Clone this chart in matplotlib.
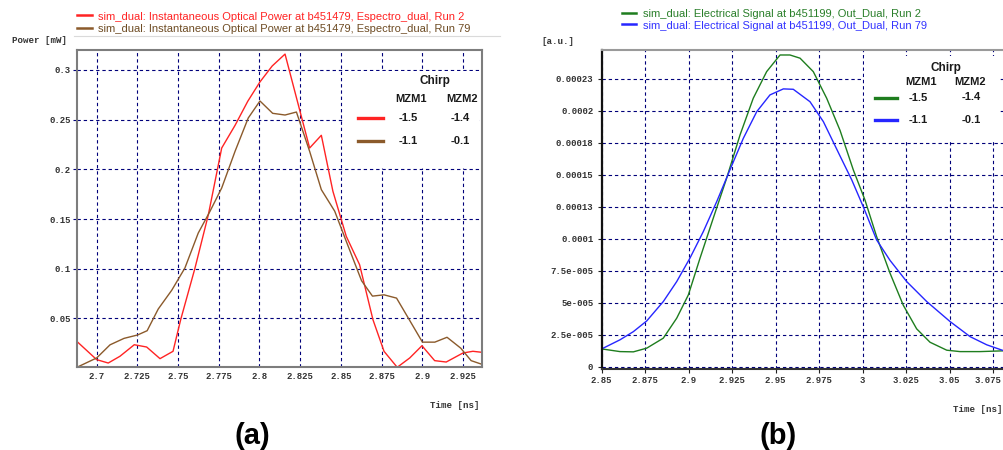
import matplotlib
matplotlib.use("Agg")
import matplotlib.pyplot as plt
import matplotlib.transforms as mtransforms
from matplotlib.lines import Line2D
from matplotlib.patches import Rectangle

# ---------------- data ----------------
# (a) instantaneous optical power [mW] vs time [ns]
t_run2 = [2.6882, 2.7000, 2.7071, 2.7143, 2.7231, 2.7307, 2.7389, 2.7469, 2.7516,
          2.7604, 2.7686, 2.7768, 2.7850, 2.7928, 2.8003, 2.8078, 2.8157, 2.8308,
          2.8380, 2.8451, 2.8533, 2.8615, 2.8697, 2.8765, 2.8846, 2.8923, 2.8998,
          2.9076, 2.9147, 2.9250, 2.9311, 2.9365]
p_run2 = [0.0264, 0.0086, 0.0052, 0.0120, 0.0236, 0.0213, 0.0096, 0.0170, 0.0488,
          0.1008, 0.1544, 0.2215, 0.2443, 0.2685, 0.2880, 0.3040, 0.3160, 0.2215,
          0.2343, 0.1780, 0.1327, 0.1041, 0.0488, 0.0170, 0.0009, 0.0103, 0.0226,
          0.0076, 0.0062, 0.0153, 0.0170, 0.0160]

t_run79 = [2.6880, 2.7000, 2.7082, 2.7168, 2.7251, 2.7310, 2.7378, 2.7461, 2.7542,
           2.7624, 2.7696, 2.7768, 2.7850, 2.7931, 2.8003, 2.8081, 2.8157, 2.8227,
           2.8308, 2.8380, 2.8462, 2.8533, 2.8627, 2.8694, 2.8765, 2.8842, 2.8920,
           2.9001, 2.9077, 2.9152, 2.9236, 2.9300, 2.9361]
p_run79 = [0.0010, 0.0103, 0.0235, 0.0300, 0.0334, 0.0377, 0.0595, 0.0784, 0.1008,
           0.1360, 0.1578, 0.1813, 0.2182, 0.2517, 0.2688, 0.2564, 0.2547, 0.2577,
           0.2182, 0.1796, 0.1580, 0.1277, 0.0880, 0.0725, 0.0738, 0.0705, 0.0488,
           0.0262, 0.0262, 0.0311, 0.0202, 0.0076, 0.0042]

# (b) electrical signal [a.u.] vs time [ns]
t_el2 = [2.8500, 2.8605, 2.8682, 2.8759, 2.8854, 2.8931, 2.8998, 2.9065, 2.9141,
         2.9218, 2.9295, 2.9371, 2.9448, 2.9525, 2.9582, 2.9640, 2.9716, 2.9793,
         2.9870, 2.9946, 3.0013, 3.0080, 3.0157, 3.0233, 3.0310, 3.0387, 3.0483,
         3.0559, 3.0674, 3.0808]
v_el2 = [1.38e-5, 1.17e-5, 1.15e-5, 1.44e-5, 2.22e-5, 3.78e-5, 5.60e-5, 8.47e-5,
         1.159e-4, 1.472e-4, 1.810e-4, 2.097e-4, 2.305e-4, 2.435e-4, 2.435e-4,
         2.410e-4, 2.305e-4, 2.097e-4, 1.845e-4, 1.537e-4, 1.302e-4, 1.016e-4,
         7.30e-5, 4.80e-5, 2.95e-5, 1.90e-5, 1.28e-5, 1.17e-5, 1.17e-5, 1.23e-5]

t_el79 = [2.8500, 2.8605, 2.8682, 2.8759, 2.8854, 2.8931, 2.9007, 2.9084, 2.9161,
          2.9237, 2.9314, 2.9391, 2.9467, 2.9544, 2.9601, 2.9697, 2.9774, 2.9870,
          2.9937, 3.0003, 3.0080, 3.0157, 3.0253, 3.0368, 3.0502, 3.0617, 3.0713,
          3.0808]
v_el79 = [1.38e-5, 2.09e-5, 2.73e-5, 3.57e-5, 5.08e-5, 6.64e-5, 8.47e-5, 1.055e-4,
          1.289e-4, 1.537e-4, 1.784e-4, 1.992e-4, 2.123e-4, 2.170e-4, 2.167e-4,
          2.070e-4, 1.914e-4, 1.645e-4, 1.459e-4, 1.250e-4, 9.90e-5, 8.30e-5,
          6.64e-5, 5.08e-5, 3.52e-5, 2.34e-5, 1.70e-5, 1.25e-5]

# ticks
xticks_a = [2.7, 2.725, 2.75, 2.775, 2.8, 2.825, 2.85, 2.875, 2.9, 2.925]
xlabels_a = ["2.7", "2.725", "2.75", "2.775", "2.8", "2.825", "2.85", "2.875", "2.9", "2.925"]
yticks_a = [0.05, 0.1, 0.15, 0.2, 0.25, 0.3]
ylabels_a = ["0.05", "0.1", "0.15", "0.2", "0.25", "0.3"]

xticks_b = [2.85, 2.875, 2.9, 2.925, 2.95, 2.975, 3.0, 3.025, 3.05, 3.075, 3.1]
xlabels_b = ["2.85", "2.875", "2.9", "2.925", "2.95", "2.975", "3", "3.025", "3.05", "3.075", ""]
yticks_b = [0, 2.5e-5, 5e-5, 7.5e-5, 1e-4, 1.25e-4, 1.5e-4, 1.75e-4, 2e-4, 2.25e-4]
ylabels_b = ["0", "2.5e-005", "5e-005", "7.5e-005", "0.0001", "0.00013", "0.00015",
             "0.00018", "0.0002", "0.00023"]

# legend entries
series_a = ["sim_dual: Instantaneous Optical Power at b451479, Espectro_dual, Run 2",
            "sim_dual: Instantaneous Optical Power at b451479, Espectro_dual, Run 79"]
series_b = ["sim_dual: Electrical Signal at b451199, Out_Dual, Run 2",
            "sim_dual: Electrical Signal at b451199, Out_Dual, Run 79"]
chirp_mzm1 = ["-1.5", "-1.1"]
chirp_mzm2 = ["-1.4", "-0.1"]

# ---------------- style ----------------
RED, BROWN = "#ff2323", "#8b5a2b"
GREEN, BLUE = "#1e7d1e", "#2626ff"
GRID = "#00007a"
SANS = "Liberation Sans"
MONO = "Liberation Mono"

W, H = 1004, 450
fig = plt.figure(figsize=(W / 100, H / 100), dpi=100)
fig.patch.set_facecolor("white")


def fx(px):
    return px / W


def fy(py):
    return 1 - py / H


def fline(x0, x1, y, color, lw=2.2):
    fig.add_artist(Line2D([fx(x0), fx(x1)], [fy(y), fy(y)], color=color, lw=lw,
                          transform=fig.transFigure, zorder=5))


def ftext(x, y, s, **kw):
    kw.setdefault("family", SANS)
    fig.text(fx(x), fy(y), s, zorder=6, **kw)


def style_grid(ax):
    ax.set_axisbelow(True)
    ax.grid(True, color=GRID, linestyle=(0, (3, 2.6)), lw=0.8)


def tick_font(ax):
    for lab in ax.get_xticklabels() + ax.get_yticklabels():
        lab.set_family(MONO)
        lab.set_fontsize(6.5)
        lab.set_fontweight("bold")
        lab.set_color("#333333")


# ---------------- (a) optical power ----------------
axA = fig.add_axes([fx(77.3), fy(366.7), (481.7 - 77.3) / W, (366.7 - 50) / H])
axA.plot(t_run2, p_run2, color=RED, lw=1.0, zorder=2)
axA.plot(t_run79, p_run79, color=BROWN, lw=1.0, zorder=2)
axA.set_xlim(2.6881, 2.9365)
axA.set_ylim(0.0015, 0.3201)
axA.set_xticks(xticks_a, xlabels_a)
axA.set_yticks(yticks_a, ylabels_a)
style_grid(axA)
axA.tick_params(axis="x", length=0, pad=3.5)
axA.tick_params(axis="y", length=3, width=0.8, color=GRID, pad=1.8)
tick_font(axA)
for sp in axA.spines.values():
    sp.set_color("#7d7d7d")
    sp.set_linewidth(1.5)
axA.add_patch(Rectangle((0.657, 0.627), 0.336, 0.306, transform=axA.transAxes,
                        facecolor="white", edgecolor="none", zorder=1))

# ---------------- (b) electrical signal ----------------
axB = fig.add_axes([fx(601.7), fy(369), (1036.7 - 601.7) / W, (369 - 50) / H])
axB.plot(t_el2, v_el2, color=GREEN, lw=1.0, zorder=2)
axB.plot(t_el79, v_el79, color=BLUE, lw=1.0, zorder=2)
axB.set_xlim(2.85, 3.1)
axB.set_ylim(-1.9e-6, 2.474e-4)
axB.set_xticks(xticks_b, xlabels_b)
axB.set_yticks(yticks_b, ylabels_b)
style_grid(axB)
axB.tick_params(axis="both", length=3, width=0.8, color="#222222")
axB.tick_params(axis="x", pad=2)
axB.tick_params(axis="y", pad=3)
tick_font(axB)
# the last visible time label sits a little left of its tick, at the figure edge
last_lab = axB.get_xticklabels()[9]
last_lab.set_transform(last_lab.get_transform() +
                       mtransforms.ScaledTranslation(-0.055, 0, fig.dpi_scale_trans))
axB.spines["top"].set_color("#9a9a9a")
axB.spines["top"].set_linewidth(1.5)
axB.spines["left"].set_color("#111111")
axB.spines["left"].set_linewidth(1.6)
axB.spines["bottom"].set_color("#333333")
axB.spines["bottom"].set_linewidth(1.5)
axB.spines["right"].set_visible(False)
axB.add_patch(Rectangle((0.603, 0.714), 0.313, 0.267, transform=axB.transAxes,
                        facecolor="white", edgecolor="none", zorder=1))

# ---------------- series captions above the plots ----------------
fig.add_artist(Line2D([fx(74), fx(500)], [fy(36), fy(36)], color="#dadada", lw=0.8,
                      transform=fig.transFigure, zorder=1))
fline(77, 92, 15, RED, lw=1.8)
ftext(98, 16.5, series_a[0], color=RED, fontsize=8, va="center")
fline(77, 92, 27.7, BROWN, lw=1.8)
ftext(98, 29, series_a[1], color="#6e4c24", fontsize=8, va="center")

fline(622, 636, 12.7, GREEN, lw=1.8)
ftext(643, 14.3, series_b[0], color="#2a7f2a", fontsize=8, va="center")
fline(622, 636, 24, BLUE, lw=1.8)
ftext(643, 26, series_b[1], color="#3333ff", fontsize=8, va="center")

# ---------------- chirp tables inside the plots ----------------
bold = dict(fontsize=8, fontweight="bold", color="#1a1a1a", ha="center", va="center")
ftext(435.3, 81, "Chirp", **{**bold, "fontsize": 8.5})
ftext(410.5, 99.3, "MZM1", **bold)
ftext(461.7, 99.3, "MZM2", **bold)
for y, col, m1, m2 in [(118.3, RED, chirp_mzm1[0], chirp_mzm2[0]),
                       (141.0, BROWN, chirp_mzm1[1], chirp_mzm2[1])]:
    fline(358.3, 382.7, y, col, lw=2.4)
    ftext(408, y, m1, **bold)
    ftext(460, y, m2, **bold)

ftext(945.8, 67.7, "Chirp", **{**bold, "fontsize": 8.5})
ftext(921, 82.3, "MZM1", **bold)
ftext(970.3, 82.3, "MZM2", **bold)
for y, col, m1, m2 in [(97.5, GREEN, chirp_mzm1[0], chirp_mzm2[0]),
                       (119.7, BLUE, chirp_mzm1[1], chirp_mzm2[1])]:
    fline(875, 896.7, y, col, lw=2.4)
    ftext(918.5, y + 0.7, m1, **bold)
    ftext(971.7, y, m2, **bold)

# ---------------- axis captions ----------------
mono = dict(family=MONO, fontsize=6.6, fontweight="bold", color="#333333", va="center")
ftext(11.7, 40.7, "Power [mW]", **mono)
ftext(541.7, 41, "[a.u.]", **mono)
ftext(430, 405.7, "Time [ns]", **mono)
ftext(953.3, 409.3, "Time [ns]", **mono)

ftext(252.5, 436, "(a)", fontsize=21, fontweight="bold", color="black",
      ha="center", va="center")
ftext(777.8, 436, "(b)", fontsize=21, fontweight="bold", color="black",
      ha="center", va="center")

fig.savefig("out.png", dpi=100)
